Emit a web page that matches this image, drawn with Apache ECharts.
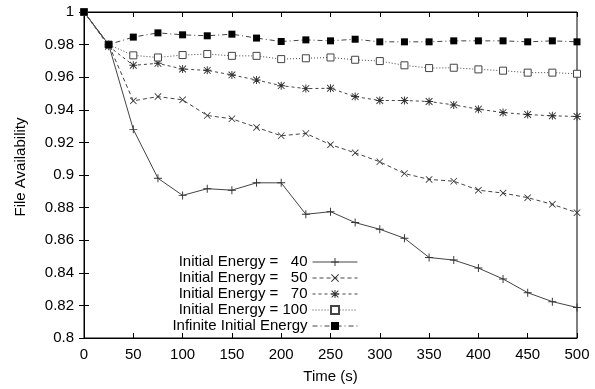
<!DOCTYPE html>
<html>
<head>
<meta charset="utf-8">
<script src="https://cdn.jsdelivr.net/npm/echarts@6/dist/echarts.min.js"></script>
<style>
  html, body { margin: 0; padding: 0; background: #fff; }
  #chart { width: 595px; height: 389px; }
</style>
</head>
<body>
<div id="chart"></div>
<script>
const times = [0, 25, 50, 75, 100, 125, 150, 175, 200, 225, 250, 275, 300, 325, 350, 375, 400, 425, 450, 475, 500];

const energy40 = [1, 0.980, 0.928, 0.898, 0.8875, 0.8916, 0.8907, 0.8952, 0.8952, 0.8759, 0.8775, 0.8708, 0.8667, 0.8612, 0.8494, 0.8478, 0.8429, 0.8362, 0.8278, 0.8223, 0.8187];
const energy50 = [1, 0.980, 0.9455, 0.9481, 0.9461, 0.9365, 0.9345, 0.9292, 0.9241, 0.9255, 0.9186, 0.9136, 0.9081, 0.9009, 0.8973, 0.8962, 0.8907, 0.8889, 0.8861, 0.8820, 0.8769];
const energy70 = [1, 0.979, 0.9673, 0.9685, 0.9650, 0.9642, 0.9614, 0.9583, 0.9548, 0.9530, 0.9532, 0.9481, 0.9457, 0.9457, 0.9451, 0.9430, 0.9404, 0.9383, 0.9371, 0.9363, 0.9359];
const energy100 = [1, 0.980, 0.9734, 0.9721, 0.9736, 0.9742, 0.9731, 0.9731, 0.9711, 0.9716, 0.9721, 0.9707, 0.9699, 0.9673, 0.9656, 0.9658, 0.9648, 0.9640, 0.9628, 0.9628, 0.9621];
const energyInf = [1, 0.980, 0.9846, 0.9872, 0.9860, 0.9854, 0.9864, 0.9840, 0.9819, 0.9829, 0.9823, 0.9833, 0.9817, 0.9817, 0.9817, 0.9823, 0.9823, 0.9823, 0.9817, 0.9823, 0.9817];

const names = ['Initial Energy =   40', 'Initial Energy =   50', 'Initial Energy =   70', 'Initial Energy = 100', 'Infinite Initial Energy'];

// thin filled strokes for the gnuplot point types
const plusPath = 'path://M0,4.4L10,4.4L10,5.6L0,5.6Z M4.4,0L5.6,0L5.6,10L4.4,10Z';
const crossPath = 'path://M0.8,0L5,4.2L9.2,0L10,0.8L5.8,5L10,9.2L9.2,10L5,5.8L0.8,10L0,9.2L4.2,5L0,0.8Z';
const starPath = 'path://M0,4.4L10,4.4L10,5.6L0,5.6Z M4.4,0L5.6,0L5.6,10L4.4,10Z M1.2,0.4L5,4.2L8.8,0.4L9.6,1.2L5.8,5L9.6,8.8L8.8,9.6L5,5.8L1.2,9.6L0.4,8.8L4.2,5L0.4,1.2Z';

const font = 'Liberation Sans';

const makeSeries = (name, values, symbol, size, lineType, fill, border) => ({
  name: name,
  type: 'line',
  data: values.map((v, i) => [times[i], v]),
  symbol: symbol,
  symbolSize: size,
  showAllSymbol: true,
  lineStyle: { color: '#444', width: 1, type: lineType },
  itemStyle: { color: fill, borderColor: border, borderWidth: border ? 1 : 0 },
  emphasis: { disabled: true },
  z: 2
});

const chart = echarts.init(document.getElementById('chart'));
chart.setOption({
  animation: false,
  backgroundColor: '#fff',
  textStyle: { fontFamily: font, color: '#000' },
  grid: { left: 84, right: 18, top: 12, bottom: 50, show: true, borderColor: '#000', borderWidth: 1 },
  legend: {
    orient: 'vertical',
    align: 'right',
    right: 232,
    top: 249,
    itemWidth: 45,
    itemHeight: 10,
    itemGap: 0,
    lineStyle: { width: 1 },
    textStyle: { fontFamily: font, fontSize: 15, color: '#000', lineHeight: 16 },
    data: names
  },
  xAxis: [
    {
      type: 'value', min: 0, max: 500, interval: 50,
      name: 'Time (s)', nameLocation: 'middle', nameGap: 31,
      nameTextStyle: { fontFamily: font, fontSize: 15, color: '#000' },
      axisLine: { lineStyle: { color: '#000' } },
      axisTick: { inside: true, length: 5, lineStyle: { color: '#000' } },
      axisLabel: { fontFamily: font, fontSize: 15, color: '#000', margin: 9 },
      splitLine: { show: false }
    },
    {
      type: 'value', min: 0, max: 500, interval: 50, position: 'top',
      axisLine: { lineStyle: { color: '#000' } },
      axisTick: { inside: true, length: 5, lineStyle: { color: '#000' } },
      axisLabel: { show: false },
      splitLine: { show: false }
    }
  ],
  yAxis: [
    {
      type: 'value', min: 0.8, max: 1, interval: 0.02,
      name: 'File Availability', nameLocation: 'middle', nameGap: 56,
      nameTextStyle: { fontFamily: font, fontSize: 15, color: '#000', padding: [0, 0, 0, 16] },
      axisLine: { show: true, lineStyle: { color: '#000' } },
      axisTick: { show: true, inside: true, length: 5, lineStyle: { color: '#000' } },
      axisLabel: { fontFamily: font, fontSize: 15, color: '#000', margin: 10 },
      splitLine: { show: false }
    },
    {
      type: 'value', min: 0.8, max: 1, interval: 0.02, position: 'right',
      axisLine: { show: true, lineStyle: { color: '#000' } },
      axisTick: { show: true, inside: true, length: 5, lineStyle: { color: '#000' } },
      axisLabel: { show: false },
      splitLine: { show: false }
    }
  ],
  series: [
    makeSeries(names[0], energy40, plusPath, 8, 'solid', '#333', null),
    makeSeries(names[1], energy50, crossPath, 7, [4, 3], '#333', null),
    makeSeries(names[2], energy70, starPath, 8, [3, 3], '#333', null),
    makeSeries(names[3], energy100, 'rect', 7, [1, 2], '#fff', '#444'),
    makeSeries(names[4], energyInf, 'rect', 7, [5, 3, 1, 3], '#000', null)
  ]
});
</script>
</body>
</html>
